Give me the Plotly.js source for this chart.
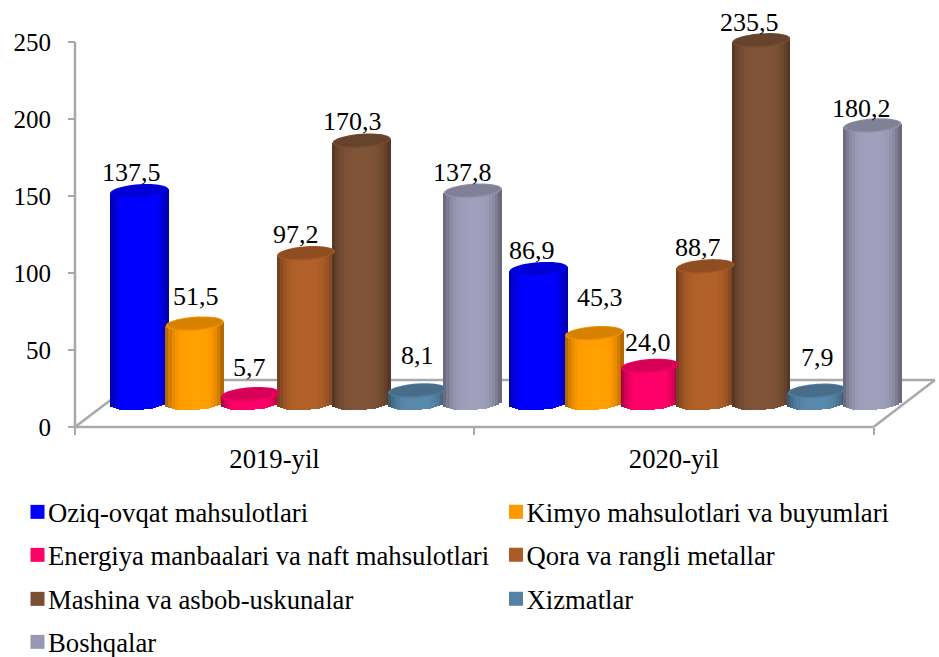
<!DOCTYPE html>
<html>
<head>
<meta charset="utf-8">
<script src="https://cdn.plot.ly/plotly-3.0.1.min.js"></script>
<style>html,body{margin:0;padding:0;background:#fff}#chart{width:939px;height:657px}</style>
</head>
<body>
<div id="chart"></div>
<script>
// ---- data ----
const categories = ['2019-yil', '2020-yil'];
const seriesNames = [
  'Oziq-ovqat mahsulotlari',
  'Kimyo mahsulotlari va buyumlari',
  'Energiya manbaalari va naft mahsulotlari',
  'Qora va rangli metallar',
  'Mashina va asbob-uskunalar',
  'Xizmatlar',
  'Boshqalar'
];
const oziqOvqat = [137.5, 86.9];
const kimyo = [51.5, 45.3];
const energiya = [5.7, 24.0];
const metallar = [97.2, 88.7];
const mashina = [170.3, 235.5];
const xizmatlar = [8.1, 7.9];
const boshqalar = [137.8, 180.2];
const yTicks = [0, 50, 100, 150, 200, 250];

// ---- styling ----
const seriesValues = [oziqOvqat, kimyo, energiya, metallar, mashina, xizmatlar, boshqalar];
const seriesColors = ['#0000FF', '#FF9900', '#FF0066', '#AA5C28', '#7A5035', '#5482A4', '#9898B4'];
const FONT = '"Liberation Serif","Times New Roman",serif';
const GREY = '#a9a9a9';

// pixel frame of the plot
const L = 60, T = 5, PW = 878, PH = 435, W = 939, H = 657;
const axisXpx = 75, axisYpx = 427, pxPerCat = 399.5, pxPerUnit = 1.54, cat0px = 274.5;
const xRange = [(L - cat0px) / pxPerCat, (L + PW - cat0px) / pxPerCat];
const yRange = [(axisYpx - (T + PH)) / pxPerUnit, (axisYpx - T) / pxPerUnit];

// 3D look of the cylinders
const R = 29 / pxPerCat, b = 7 / pxPerUnit, tilt = 2 / pxPerUnit;
const floorBase = 24 / pxPerUnit;
const seriesStep = 55.6 / pxPerCat, groupShift = 31.5 / pxPerCat;
const STRIPS = 19;
const barX = (cat, s) => cat + groupShift + (s - 3) * seriesStep;

function shade(hex, k) {
  const n = parseInt(hex.slice(1), 16);
  const c = [(n >> 16) & 255, (n >> 8) & 255, n & 255].map(v => Math.min(255, Math.round(v * k)));
  return 'rgb(' + c.join(',') + ')';
}

const traces = [];
const shapes = [];
seriesNames.forEach((name, s) => {
  const values = seriesValues[s];
  const xs = categories.map((_, c) => barX(c, s));
  // legend-carrying main column
  traces.push({
    type: 'bar', name, x: xs, y: values, base: values.map(() => floorBase),
    width: values.map(() => R * 1.1),
    marker: { color: seriesColors[s], line: { width: 0 } },
    legend: s === 0 ? 'legend' : 'legend' + (s + 1),
    showlegend: true, hoverinfo: 'skip'
  });
  // strips giving the round shading
  for (let k = 0; k < STRIPS; k++) {
    const t = (k + 0.5) / STRIPS * 2 - 1;
    const drop = b * Math.sqrt(1 - t * t);
    const k0 = 1.05 - 0.42 * Math.pow(Math.abs(t), 3.5);
    traces.push({
      type: 'bar', x: xs.map(x => x + t * R),
      y: values.map(v => v + drop),
      base: values.map(() => floorBase + tilt * t - drop),
      width: values.map(() => 2 * R / STRIPS * 1.25),
      marker: { color: shade(seriesColors[s], k0), line: { width: 0 } },
      showlegend: false, hoverinfo: 'skip'
    });
  }
  // top caps
  values.forEach((v, c) => {
    const ell = (rx, ry, dy) => {
      let p = '';
      for (let i = 0; i < 48; i++) {
        const a = i / 48 * 2 * Math.PI;
        const px = xs[c] + rx * Math.cos(a);
        const py = floorBase + v + dy + ry * Math.sin(a) + tilt * rx / R * Math.cos(a);
        p += (i ? 'L' : 'M') + px + ',' + py;
      }
      return p + 'Z';
    };
    shapes.push({ type: 'path', xref: 'x', yref: 'y', layer: 'above', path: ell(R, b, 0),
      fillcolor: shade(seriesColors[s], 0.95), line: { width: 0 } });
    shapes.push({ type: 'path', xref: 'x', yref: 'y', layer: 'above', path: ell(R * 0.94, b * 0.82, 0.15),
      fillcolor: shade(seriesColors[s], 0.84), line: { width: 0 } });
  });
});

// floor and axis lines
const xv = px => (px - cat0px) / pxPerCat;
const yv = py => (axisYpx - py) / pxPerUnit;
const floorLines = [
  [axisXpx, axisYpx, 873.5, axisYpx],
  [axisXpx, axisYpx, 137, 380],
  [137, 380, 935, 380],
  [873.5, axisYpx, 935, 380],
  [axisXpx, axisYpx, axisXpx, 42]
];
floorLines.forEach(q => shapes.push({
  type: 'line', xref: 'x', yref: 'y', layer: 'below',
  x0: xv(q[0]), y0: yv(q[1]), x1: xv(q[2]), y1: yv(q[3]),
  line: { color: GREY, width: 2.5 }
}));

// data labels
const labelDx = [[-8, 1, -1, -10, -9, 0, -10], [-7, 6, -2, -8, -12, 1, -11]];
const labelDy = [[19, 27, 27, 19, 19, 35, 18], [19, 36, 24, 19, 18, 33, 17]];
const annotations = [];
seriesNames.forEach((_, s) => seriesValues[s].forEach((v, c) => annotations.push({
  x: barX(c, s), y: floorBase + v, xref: 'x', yref: 'y',
  text: v.toFixed(1).replace('.', ','), showarrow: false,
  xanchor: 'center', yanchor: 'middle',
  xshift: labelDx[c][s], yshift: labelDy[c][s],
  font: { family: FONT, size: 26, color: '#000' }
})));

// one legend per entry, to reproduce the two-column grid
const legendPos = [[0, 512], [478.5, 512], [0, 555], [478.5, 555], [0, 599], [478.5, 599], [0, 642]];
const layout = {
  width: W, height: H, paper_bgcolor: '#fff', plot_bgcolor: 'rgba(0,0,0,0)',
  margin: { l: L, r: W - L - PW, t: T, b: H - T - PH, autoexpand: false, pad: 0 },
  barmode: 'overlay', bargap: 0, hovermode: false,
  font: { family: FONT, size: 25, color: '#000' },
  xaxis: {
    range: xRange, tickmode: 'array', tickvals: [0, 1], ticktext: categories,
    anchor: 'free', position: (T + PH - axisYpx) / PH,
    showgrid: false, zeroline: false, showline: false, ticks: '', ticklabelstandoff: 13,
    tickfont: { family: FONT, size: 26.7, color: '#000' },
    minor: { tickmode: 'array', tickvals: [-0.5, 0.5, 1.5], ticks: 'outside', ticklen: 7, tickwidth: 2, tickcolor: GREY, showgrid: false }
  },
  yaxis: {
    range: yRange, tickmode: 'array', tickvals: yTicks, ticktext: yTicks.map(String),
    anchor: 'free', position: (axisXpx - L) / PW,
    showgrid: false, zeroline: false, showline: false,
    ticks: 'outside', ticklen: 7, tickwidth: 2, tickcolor: GREY, ticklabelstandoff: 12,
    tickfont: { family: FONT, size: 25, color: '#000' }
  },
  shapes, annotations
};
seriesNames.forEach((_, s) => {
  layout[s === 0 ? 'legend' : 'legend' + (s + 1)] = {
    x: (legendPos[s][0] + 8 - L) / PW, y: 1 - (legendPos[s][1] - T) / PH,
    xanchor: 'left', yanchor: 'middle', bgcolor: 'rgba(0,0,0,0)', borderwidth: 0,
    font: { family: FONT, size: 26.7, color: '#000' }, itemclick: false, itemdoubleclick: false
  };
});

Plotly.newPlot('chart', traces, layout, { displayModeBar: false }).then(gd => {
  // tighten the gap between each legend swatch and its text
  gd.querySelectorAll('.legendsymbols').forEach(g => {
    g.setAttribute('transform', 'translate(9.5,0)');
    g.querySelectorAll('.legendpoints path').forEach(p => p.setAttribute('d', 'M7,7H-7V-7H7Z'));
  });
});
</script>
</body>
</html>
